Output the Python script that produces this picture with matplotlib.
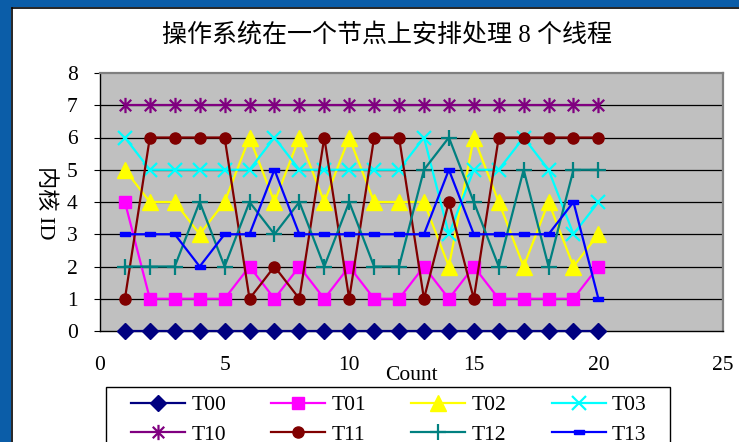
import matplotlib
matplotlib.use("Agg")
import matplotlib.pyplot as plt
from matplotlib.path import Path
from matplotlib.patches import Rectangle

plt.rcParams['font.family'] = ['Liberation Serif', 'Noto Sans CJK SC', 'DejaVu Sans']

# Scheduling trace: core ID each thread ran on, per sample count
counts = list(range(1, 21))
T00 = [0] * 20
T01 = [4, 1, 1, 1, 1, 2, 1, 2, 1, 2, 1, 1, 2, 1, 2, 1, 1, 1, 1, 2]
T02 = [5, 4, 4, 3, 4, 6, 4, 6, 4, 6, 4, 4, 4, 2, 6, 4, 2, 4, 2, 3]
T03 = [6, 5, 5, 5, 5, 5, 6, 5, 5, 5, 5, 5, 6, 3, 5, 5, 6, 5, 3, 4]
T10 = [7] * 20
T11 = [1, 6, 6, 6, 6, 1, 2, 1, 6, 1, 6, 6, 1, 4, 1, 6, 6, 6, 6, 6]
T12 = [2, 2, 2, 4, 2, 4, 3, 4, 2, 4, 2, 2, 5, 6, 4, 2, 5, 2, 5, 5]
T13 = [3, 3, 3, 2, 3, 3, 5, 3, 3, 3, 3, 3, 3, 5, 3, 3, 3, 3, 4, 1]

series_names = ['T00', 'T01', 'T02', 'T03', 'T10', 'T11', 'T12', 'T13']
series_values = [T00, T01, T02, T03, T10, T11, T12, T13]

title_text = '操作系统在一个节点上安排处理 8 个线程'
xlabel_text = 'Count'
ylabel_text = '内核 ID'
xticks = [0, 5, 10, 15, 20, 25]
yticks = [0, 1, 2, 3, 4, 5, 6, 7, 8]

# custom marker shapes
asterisk = Path([(0, -1), (0, 1), (-0.75, -0.75), (0.75, 0.75), (-0.75, 0.75), (0.75, -0.75)],
                [Path.MOVETO, Path.LINETO, Path.MOVETO, Path.LINETO, Path.MOVETO, Path.LINETO])
dash_rect = [(-1, -0.38), (1, -0.38), (1, 0.38), (-1, 0.38), (-1, -0.38)]

styles = {
    'T00': dict(color='#000080', marker='D', ms=8),
    'T01': dict(color='#FF00FF', marker='s', ms=8),
    'T02': dict(color='#FFFF00', marker='^', ms=11),
    'T03': dict(color='#00FFFF', marker='x', ms=10, mew=1.6),
    'T10': dict(color='#800080', marker=asterisk, ms=11, mew=1.6),
    'T11': dict(color='#800000', marker='o', ms=8),
    'T12': dict(color='#008080', marker='+', ms=12, mew=1.6),
    'T13': dict(color='#0000FF', marker=dash_rect, ms=7),
}

W, H = 739, 442
fig = plt.figure(figsize=(W / 100, H / 100), dpi=100)
fig.patch.set_facecolor('white')

# window frame on top and left
fig.patches.append(Rectangle((0, 1 - 7 / H), 1, 7 / H, transform=fig.transFigure,
                             facecolor='#0B5DA8', edgecolor='none', zorder=-2))
fig.patches.append(Rectangle((0, 0), 11 / W, 1, transform=fig.transFigure,
                             facecolor='#0B5DA8', edgecolor='none', zorder=-2))
fig.add_artist(plt.Line2D([11.5 / W, 1], [1 - 7.5 / H, 1 - 7.5 / H], transform=fig.transFigure,
                          color='black', lw=1.2, zorder=-1))
fig.add_artist(plt.Line2D([11.5 / W, 11.5 / W], [0, 1 - 7.5 / H], transform=fig.transFigure,
                          color='black', lw=1.2, zorder=-1))

# legend box (extends past the lower edge of the figure)
fig.patches.append(Rectangle((106 / W, -0.1), (670 - 106) / W, 0.1 + 1 - 387 / H,
                             transform=fig.transFigure, facecolor='white',
                             edgecolor='black', lw=1.0, zorder=-1))

left, right, top, bottom = 100, 723, 73, 331
ax = fig.add_axes([left / W, 1 - bottom / H, (right - left) / W, (bottom - top) / H])
ax.set_facecolor('#C0C0C0')

handles = {}
for name, vals in zip(series_names, series_values):
    st = styles[name]
    line, = ax.plot(counts, vals, color=st['color'], lw=1.6, marker=st['marker'],
                    ms=st['ms'], mfc=st['color'], mec=st['color'], mew=st.get('mew', 1.0),
                    label=name, clip_on=False, zorder=3)
    handles[name] = line

ax.set_xlim(0, 25)
ax.set_ylim(0, 8)
ax.set_xticks(xticks)
ax.set_yticks(yticks)
for y in yticks[1:-1]:
    ax.axhline(y, color='black', lw=0.9, zorder=1)

ax.tick_params(axis='both', labelsize=15.5, direction='out', length=4, width=0.8)
ax.tick_params(axis='x', pad=18, length=0)
ax.tick_params(axis='y', pad=12)
for side in ('left', 'bottom'):
    ax.spines[side].set_color('black')
    ax.spines[side].set_linewidth(1.0)
for side in ('top', 'right'):
    ax.spines[side].set_color('#808080')
    ax.spines[side].set_linewidth(1.6)

fig.text(387 / W, 1 - 35 / H, title_text, ha='center', va='center', fontsize=18)
fig.text(411 / W, 1 - 375 / H, xlabel_text, ha='center', va='center', fontsize=15.5)
fig.text(45 / W, 1 - 203 / H, ylabel_text, ha='center', va='center', fontsize=16,
         rotation=-90)

# fill legend row by row: T00..T03 on top, T10..T13 below
ncol = 4
order = [series_names[r * ncol + c] for c in range(ncol) for r in range(2)]
leg = ax.legend([handles[n] for n in order], order,
                loc='upper left', bbox_to_anchor=(131 / W, 1 - 395 / H),
                bbox_transform=fig.transFigure, ncol=ncol, fontsize=15.5,
                frameon=False, borderaxespad=0, borderpad=0, labelspacing=0.45,
                handlelength=2.5, handletextpad=0.3, columnspacing=2.1)

fig.savefig('out.png', dpi=100)
